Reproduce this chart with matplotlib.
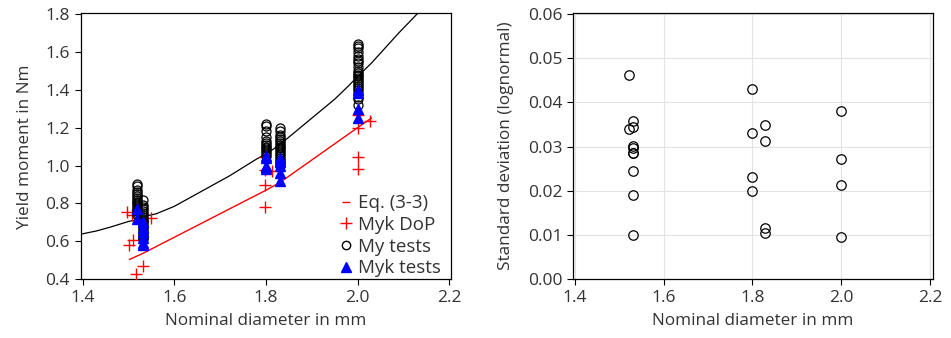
import matplotlib.pyplot as plt
from matplotlib.lines import Line2D

plt.rcParams['font.family'] = ['Open Sans', 'DejaVu Sans']

# ---------------- data: left panel ----------------
# Eq. (3-3) red line
eq_x = [1.502, 1.53, 1.80, 1.83, 2.00, 2.03]
eq_y = [0.505, 0.535, 0.87, 0.91, 1.20, 1.25]

# black reference curve
curve_x = [1.40, 1.43, 1.46, 1.48, 1.50, 1.52, 1.54, 1.56, 1.58, 1.60, 1.63, 1.66,
           1.69, 1.72, 1.75, 1.78, 1.80, 1.83, 1.86, 1.89, 1.92, 1.95, 1.98, 2.00,
           2.03, 2.06, 2.09, 2.11, 2.13]
curve_y = [0.64, 0.655, 0.675, 0.69, 0.705, 0.715, 0.735, 0.745, 0.765, 0.785, 0.825, 0.865,
           0.905, 0.945, 0.99, 1.035, 1.06, 1.11, 1.17, 1.23, 1.29, 1.35, 1.42, 1.47,
           1.54, 1.62, 1.70, 1.75, 1.80]

# Myk DoP (red +)
dop_x = [1.496, 1.508, 1.55, 1.51, 1.50, 1.516, 1.532,
         1.798, 1.812, 1.798, 1.798, 1.798,
         2.00, 2.00, 2.027, 2.00, 2.00]
dop_y = [0.757, 0.739, 0.722, 0.607, 0.58, 0.43, 0.47,
         0.977, 0.973, 0.898, 0.78, 1.047,
         1.267, 1.20, 1.237, 1.047, 0.98]

# My tests (open circles)
my_d = [1.518, 1.532, 1.80, 1.83, 2.00]
my_vals = [
    [0.90, 0.89, 0.87, 0.86, 0.85, 0.84, 0.83, 0.82, 0.81, 0.80, 0.79, 0.78, 0.77, 0.76, 0.75, 0.74],
    [0.82, 0.79, 0.78, 0.77, 0.76, 0.75, 0.74, 0.73, 0.72, 0.71, 0.70, 0.69, 0.68, 0.67, 0.66,
     0.65, 0.64, 0.63, 0.62, 0.61],
    [1.22, 1.21, 1.18, 1.15, 1.13, 1.12, 1.11, 1.10, 1.09, 1.08, 1.07, 1.06, 1.05],
    [1.20, 1.18, 1.16, 1.15, 1.14, 1.13, 1.12, 1.11, 1.10, 1.09, 1.08, 1.07, 1.06, 1.05, 1.04,
     1.03, 1.02, 1.01, 1.00],
    [1.64, 1.63, 1.62, 1.60, 1.58, 1.56, 1.55, 1.54, 1.52, 1.50, 1.49, 1.48, 1.47, 1.46, 1.45,
     1.44, 1.43, 1.42, 1.41, 1.40, 1.38, 1.36, 1.35, 1.32],
]

# Myk tests (blue triangles)
myk_vals = [
    [0.77, 0.72],
    [0.70, 0.67, 0.65, 0.62, 0.59, 0.58],
    [1.05, 1.04, 1.00, 0.99, 0.98],
    [1.04, 1.02, 1.00, 0.96, 0.92],
    [1.40, 1.38, 1.30, 1.25],
]

# ---------------- data: right panel ----------------
sd_x = [1.522, 1.521, 1.531, 1.531, 1.531, 1.531, 1.531, 1.531, 1.531, 1.531, 1.531,
        1.80, 1.80, 1.80, 1.80,
        1.828, 1.828, 1.828, 1.828,
        2.00, 2.00, 2.00, 2.00]
sd_y = [0.0463, 0.0340, 0.0359, 0.0345, 0.0302, 0.0298, 0.0286, 0.0285, 0.0245, 0.0191, 0.0100,
        0.0431, 0.0331, 0.0231, 0.0199,
        0.0350, 0.0313, 0.0117, 0.0104,
        0.0381, 0.0272, 0.0213, 0.0095]

txt = '#333333'

fig = plt.figure(figsize=(9.51, 3.38), dpi=100)
ax1 = fig.add_axes([0.0852, 0.1737, 0.3887, 0.787])
ax2 = fig.add_axes([0.6028, 0.1737, 0.3779, 0.7887])

#################################################################################
# left panel
#################################################################################
ax1.plot(curve_x, curve_y, color='black', lw=0.9, zorder=2)
ax1.plot(eq_x, eq_y, color='red', lw=1.0, zorder=2)
ax1.plot(dop_x, dop_y, ls='none', marker='+', ms=9, mew=1.0, color='red', zorder=3)
for d, vals in zip(my_d, my_vals):
    ax1.plot([d] * len(vals), vals, ls='none', marker='o', ms=6.5, mfc='none',
             mec='black', mew=0.9, zorder=4)
for d, vals in zip(my_d, myk_vals):
    ax1.plot([d] * len(vals), vals, ls='none', marker='^', ms=7, color='blue', zorder=5)

ax1.set_xlim(1.3963, 2.203)
ax1.set_ylim(0.4, 1.803)
ax1.set_xticks([1.4, 1.6, 1.8, 2.0, 2.2])
ax1.set_yticks([0.4, 0.6, 0.8, 1.0, 1.2, 1.4, 1.6, 1.8])
ax1.set_xlabel('Nominal diameter in mm', fontsize=12.3, color=txt, labelpad=5)
ax1.set_ylabel('Yield moment in Nm', fontsize=12.3, color=txt, labelpad=9)

handles = [
    Line2D([], [], ls='none', marker='_', ms=6, color='red'),
    Line2D([], [], ls='none', marker='+', ms=8, mew=1.0, color='red'),
    Line2D([], [], ls='none', marker='o', ms=6, mfc='none', mec='black'),
    Line2D([], [], ls='none', marker='^', ms=7, color='blue'),
]
ax1.legend(handles, ['Eq. (3-3)', 'Myk DoP', 'My tests', 'Myk tests'],
           loc='lower right', frameon=False, fontsize=13.5, handlelength=0.6,
           handletextpad=0.35, labelspacing=0.2, borderaxespad=0.1,
           bbox_to_anchor=(1.0, -0.028), labelcolor=txt)

#################################################################################
# right panel
#################################################################################
ax2.grid(True, color='#e3e3e3', lw=0.8, zorder=0)
ax2.set_axisbelow(True)
ax2.plot(sd_x, sd_y, ls='none', marker='o', ms=6.8, mfc='none', mec='black', mew=0.9)
ax2.set_xlim(1.3962, 2.206)
ax2.set_ylim(0, 0.0603)
ax2.set_xticks([1.4, 1.6, 1.8, 2.0, 2.2])
ax2.set_yticks([0.0, 0.01, 0.02, 0.03, 0.04, 0.05, 0.06])
ax2.set_yticklabels(['0.00', '0.01', '0.02', '0.03', '0.04', '0.05', '0.06'])
ax2.set_xlabel('Nominal diameter in mm', fontsize=12.3, color=txt, labelpad=5)
ax2.set_ylabel('Standard deviation (lognormal)', fontsize=12.3, color=txt, labelpad=10)

for ax in (ax1, ax2):
    ax.tick_params(direction='out', length=4, width=0.8, labelsize=12.5, labelcolor=txt,
                   pad=4)
    for s in ax.spines.values():
        s.set_linewidth(0.9)
    ax.set_xticklabels(['1.4', '1.6', '1.8', '2.0', '2.2'])
ax1.set_yticklabels(['0.4', '0.6', '0.8', '1.0', '1.2', '1.4', '1.6', '1.8'])

fig.savefig('out.png', dpi=100)
